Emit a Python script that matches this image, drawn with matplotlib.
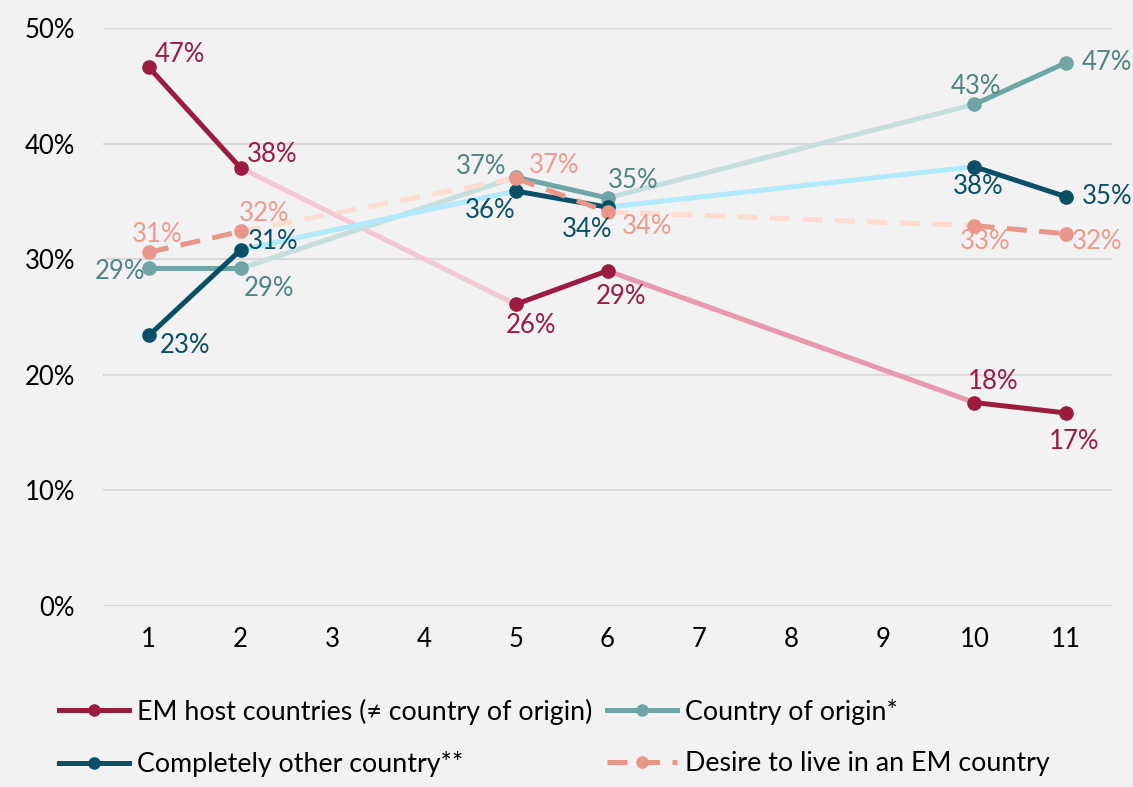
import matplotlib
matplotlib.use("Agg")
import matplotlib.pyplot as plt
from matplotlib.lines import Line2D

plt.rcParams['font.family'] = ['Lato', 'DejaVu Sans']

# data
x_labels = ['1', '2', '3', '4', '5', '6', '7', '8', '9', '10', '11']
x_pos = [1, 2, 5, 6, 10, 11]
em_host = [46.6, 37.9, 26.1, 29.0, 17.6, 16.7]
origin = [29.2, 29.2, 37.1, 35.3, 43.4, 47.0]
other = [23.4, 30.8, 35.9, 34.5, 38.0, 35.4]
desire = [30.6, 32.4, 37.0, 34.1, 32.9, 32.2]
names = ['EM host countries (≠ country of origin)', 'Country of origin*',
         'Completely other country**', 'Desire to live in an EM country']

# styles: (main colour, fade 2->5, fade 6->10, label colour, dashed)
styles = [
    ('#9b1c3f', '#f3c8d3', '#e899ab', '#9b1c3f', False),
    ('#6fa5a5', '#c6dedc', '#c6dedc', '#4f8583', False),
    ('#0b4f67', '#b0eafc', '#b0eafc', '#0b4f67', False),
    ('#e8968a', '#fddcd2', '#fddcd2', '#ee9a8c', True),
]
# label offsets in pixels (dx, dy up)
offsets = [
    [(31, 13), (32, 13), (15, -21), (13, -26), (19, 21), (8, -29)],
    [(-29, -3), (28, -20), (-35, 11), (26, 17), (2, 18), (41, 0)],
    [(36, -10), (33, 8), (-26, -19), (-20, -22), (4, -20), (41, 0)],
    [(8, 18), (24, 18), (38, 13), (40, -15), (11, -16), (31, -8)],
]

bg = '#f2f2f2'
fig = plt.figure(figsize=(11.33, 7.87), dpi=100, facecolor=bg)
ax = fig.add_axes([0.0909, 0.23, 0.8906, 0.7344], facecolor=bg)

lw = 3.6
ms = 9.5
handles = {}
for vals, name, st, offs in zip([em_host, origin, other, desire], names, styles, offsets):
    col, fade1, fade2, lcol, dashed = st
    ls = (0, (4, 2.5)) if dashed else '-'
    # faded connecting segments
    ax.plot([x_pos[1], x_pos[2]], [vals[1], vals[2]], color=fade1, lw=lw, ls=ls, zorder=2)
    ax.plot([x_pos[3], x_pos[4]], [vals[3], vals[4]], color=fade2, lw=lw, ls=ls, zorder=2)
    # solid segments
    for i in (0, 2, 4):
        ax.plot(x_pos[i:i + 2], vals[i:i + 2], color=col, lw=lw, ls=ls,
                marker='o', ms=ms, zorder=3)
    for xv, yv, (dx, dy) in zip(x_pos, vals, offs):
        ax.annotate(f'{round(yv):.0f}%', (xv, yv), xytext=(dx, dy),
                    textcoords='offset pixels', ha='center', va='center',
                    fontsize=18.5, color=lcol, zorder=5)
    handles[name] = Line2D([0], [0], color=col, lw=lw, ls=ls, marker='o', ms=8)

ax.set_xlim(0.5, 11.5)
ax.set_ylim(0, 50)
ax.set_xticks(range(1, 12))
ax.set_xticklabels(x_labels)
ax.set_yticks(range(0, 51, 10))
ax.set_yticklabels([f'{v}%' for v in range(0, 51, 10)])
ax.tick_params(length=0, labelsize=18.5, colors='#000000')
ax.tick_params(axis='y', pad=20)
ax.tick_params(axis='x', pad=15)
ax.grid(axis='y', color='#d9d9d9', lw=1.5)
ax.set_axisbelow(True)
for s in ax.spines.values():
    s.set_visible(False)

# legend filled column by column
order = [names[0], names[2], names[1], names[3]]
fig.legend([handles[n] for n in order], order, loc='upper left',
           bbox_to_anchor=(0.031, 0.143), ncol=2, frameon=False, fontsize=19.3,
           handlelength=2.6, columnspacing=0.55, handletextpad=0.3,
           labelspacing=1.0)

fig.savefig('out.png', dpi=100, facecolor=bg)
